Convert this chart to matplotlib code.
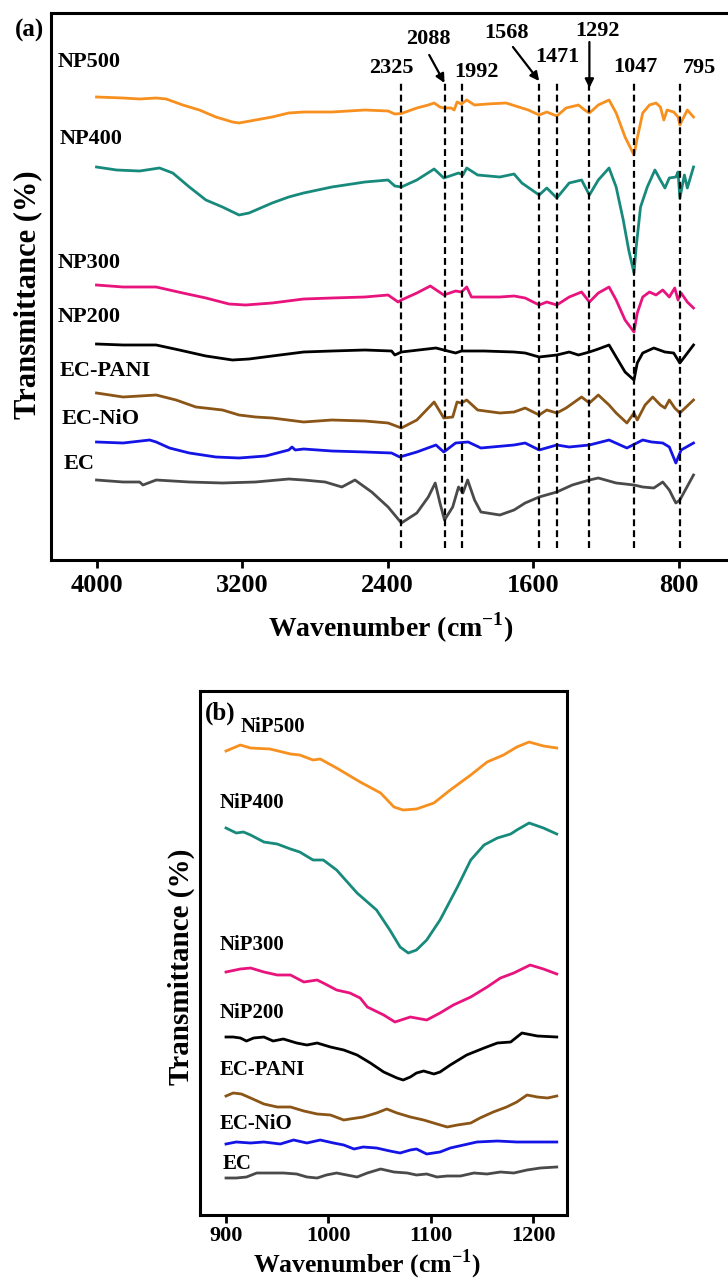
import matplotlib
matplotlib.use("Agg")
import matplotlib.pyplot as plt

plt.rcParams["font.family"] = ["Liberation Serif", "DejaVu Serif"]
plt.rcParams["font.weight"] = "bold"
plt.rcParams["mathtext.fontset"] = "custom"
plt.rcParams["mathtext.rm"] = "Liberation Serif:bold"
plt.rcParams["mathtext.bf"] = "Liberation Serif:bold"

# ---- panel (a): full-range FTIR spectra (offset, a.u.) ----
np500_wn = [4000, 3854, 3763, 3672, 3617, 3526, 3435, 3344, 3253, 3217,
            3126, 3035, 2944, 2862, 2707, 2525, 2398, 2361, 2325, 2240,
            2177, 2145, 2113, 2092, 2051, 2035, 2019, 1995, 1966, 1923,
            1853, 1750, 1680, 1628, 1568, 1526, 1471, 1420, 1352, 1318,
            1292, 1243, 1184, 1145, 1096, 1047, 1029, 999, 962, 926,
            902, 883, 865, 829, 805, 795, 754, 720]
np500_t = [463, 462, 461, 462, 461, 455, 450, 443, 438, 437,
           440, 443, 447, 448, 448, 450, 449, 446, 446.5, 452,
           455, 457, 453, 452, 452, 450, 458, 456, 460, 455,
           456, 457, 453, 450, 445, 448, 444, 452, 455, 450,
           447, 455, 460, 447, 423, 405, 422, 447, 455, 457,
           453, 440, 450, 448, 443, 435, 450, 443]

np400_wn = [4000, 3890, 3763, 3654, 3581, 3490, 3399, 3308, 3217, 3162,
            3035, 2944, 2862, 2707, 2525, 2398, 2361, 2325, 2240, 2145,
            2092, 2043, 2011, 1987, 1966, 1906, 1784, 1706, 1663, 1568,
            1526, 1471, 1403, 1335, 1292, 1243, 1184, 1145, 1106, 1076,
            1047, 1035, 1011, 974, 932, 902, 877, 853, 817, 805,
            795, 770, 754, 720]
np400_t = [393, 390, 389, 392, 387, 373, 360, 353, 345, 347,
           357, 363, 367, 373, 378, 380, 374, 373, 380, 391,
           382, 385, 387, 385, 392, 385, 383, 386, 377, 365,
           372, 362, 377, 380, 365, 380, 392, 373, 340, 310,
           287, 313, 353, 373, 390, 380, 372, 382, 383, 388,
           362, 385, 372, 393]

np300_wn = [4000, 3854, 3672, 3526, 3399, 3272, 3181, 3035, 2862, 2707,
            2525, 2398, 2343, 2325, 2240, 2166, 2092, 2027, 1995, 1966,
            1940, 1784, 1706, 1645, 1568, 1526, 1471, 1403, 1335, 1292,
            1243, 1184, 1145, 1096, 1047, 1029, 999, 962, 926, 889,
            853, 823, 805, 788, 754, 720]
np300_t = [275, 273, 273, 267, 262, 256, 255, 257, 261, 262,
           263, 265, 258, 260, 267, 274, 265, 269, 268, 273,
           263, 263, 264, 262, 255, 258, 255, 263, 268, 258,
           267, 273, 260, 240, 228, 247, 263, 268, 265, 270,
           263, 272, 260, 267, 258, 252]

np200_wn = [4000, 3854, 3672, 3545, 3399, 3253, 3162, 3035, 2862, 2707,
            2525, 2379, 2361, 2325, 2135, 2027, 1995, 1871, 1706, 1645,
            1568, 1471, 1403, 1352, 1292, 1243, 1184, 1145, 1096, 1047,
            1029, 999, 938, 877, 829, 795, 720]
np200_t = [216, 215, 215, 210, 204, 200, 201, 204, 208, 209,
           210, 209, 205, 208, 212, 207, 209, 209, 208, 207,
           203, 205, 208, 205, 208, 211, 215, 203, 188, 180,
           197, 207, 212, 208, 207, 197, 215]

ecpani_wn = [4000, 3854, 3672, 3563, 3454, 3308, 3217, 3126, 3035, 2862,
             2707, 2525, 2398, 2325, 2240, 2145, 2092, 2043, 2019, 1995,
             1966, 1906, 1784, 1706, 1645, 1568, 1526, 1471, 1420, 1335,
             1292, 1243, 1184, 1145, 1086, 1047, 1029, 986, 944, 902,
             877, 853, 823, 795, 720]
ecpani_t = [167, 163, 165, 160, 153, 150, 145, 143, 142, 138,
            140, 139, 137, 132, 140, 158, 142, 143, 158, 157,
            160, 150, 147, 148, 152, 145, 150, 147, 152, 163,
            157, 165, 155, 147, 137, 147, 140, 155, 163, 155,
            152, 160, 152, 147, 160]

ecnio_wn = [4000, 3854, 3708, 3672, 3599, 3490, 3344, 3217, 3071, 2944,
            2926, 2908, 2862, 2707, 2525, 2379, 2334, 2240, 2135, 2092,
            2027, 1958, 1888, 1706, 1645, 1568, 1471, 1403, 1292, 1184,
            1086, 999, 950, 889, 853, 817, 788, 720]
ecnio_t = [118, 117, 120, 118, 112, 107, 103, 102, 104, 110,
           113, 110, 111, 109, 108, 107, 103, 108, 115, 108,
           117, 118, 112, 115, 117, 110, 115, 113, 115, 120,
           112, 120, 118, 117, 113, 97, 110, 117]

ec_wn = [4000, 3854, 3763, 3745, 3672, 3490, 3308, 3126, 2944, 2862,
         2744, 2652, 2580, 2488, 2398, 2325, 2240, 2177, 2139, 2113,
         2088, 2043, 2011, 1987, 1961, 1923, 1888, 1784, 1706, 1645,
         1568, 1471, 1386, 1292, 1243, 1145, 1047, 999, 938, 889,
         853, 817, 795, 720]
ec_t = [80, 78, 78, 75, 80, 78, 77, 78, 81, 80,
        78, 73, 80, 68, 53, 37, 47, 63, 77, 57,
        40, 53, 73, 67, 80, 60, 48, 45, 50, 57,
        63, 68, 75, 80, 82, 77, 75, 73, 72, 78,
        70, 57, 60, 85]

peak_wn = [2325, 2088, 1992, 1568, 1471, 1292, 1047, 795]

# ---- panel (b): 900-1225 cm-1 region ----
nip500_wn = [900, 914, 924, 943, 963, 972, 985, 992, 1008, 1031, 1051, 1064,
             1073, 1086, 1103, 1119, 1139, 1155, 1171, 1184, 1196, 1210, 1223]
nip500_t = [464, 470, 467, 466, 461, 460, 455, 456, 447, 433, 422, 408,
            405, 406, 412, 425, 440, 453, 460, 468, 473, 469, 467]

nip400_wn = [900, 910, 917, 924, 937, 950, 963, 972, 985, 995, 1008, 1028,
             1047, 1060, 1070, 1078, 1086, 1096, 1109, 1126, 1139, 1152,
             1165, 1178, 1184, 1196, 1210, 1223]
nip400_t = [387, 382, 383, 380, 373, 371, 366, 363, 355, 355, 345, 322,
            305, 285, 268, 262, 265, 275, 295, 328, 355, 370,
            377, 381, 385, 392, 387, 381]

nip300_wn = [900, 914, 924, 937, 950, 963, 976, 989, 995, 1008, 1021, 1031,
             1038, 1054, 1065, 1080, 1096, 1109, 1122, 1139, 1155, 1168,
             1181, 1197, 1210, 1223]
nip300_t = [243, 246, 247, 243, 240, 240, 233, 235, 232, 225, 222, 217,
            208, 200, 193, 198, 195, 202, 210, 218, 228, 237,
            242, 250, 246, 241]

nip200_wn = [900, 907, 914, 920, 927, 937, 946, 956, 969, 979, 989, 1002,
             1015, 1028, 1041, 1054, 1067, 1073, 1080, 1086, 1093, 1103,
             1109, 1119, 1135, 1152, 1165, 1178, 1189, 1204, 1223]
nip200_t = [178, 178, 177, 174, 177, 178, 174, 176, 172, 170, 172, 168,
            165, 160, 152, 143, 137, 135, 138, 142, 144, 141,
            143, 150, 160, 167, 172, 173, 182, 179, 178]

bpani_wn = [900, 907, 915, 924, 937, 950, 963, 976, 989, 1002, 1015, 1021,
            1034, 1047, 1057, 1067, 1080, 1093, 1106, 1116, 1126, 1139,
            1148, 1161, 1174, 1184, 1194, 1204, 1214, 1223]
bpani_t = [119, 122, 121, 117, 111, 108, 108, 104, 101, 100, 95, 96,
           98, 102, 106, 102, 98, 95, 91, 88, 90, 92,
           97, 103, 108, 113, 120, 118, 117, 119]

bnio_wn = [900, 910, 924, 937, 953, 966, 979, 992, 1005, 1015, 1025, 1034,
           1047, 1060, 1070, 1080, 1086, 1096, 1109, 1119, 1132, 1145,
           1165, 1184, 1204, 1223]
bnio_t = [71, 73, 72, 73, 71, 75, 72, 75, 72, 70, 66, 68,
          67, 64, 62, 65, 66, 61, 63, 67, 70, 73,
          74, 73, 73, 73]

bec_wn = [900, 910, 920, 930, 943, 956, 969, 979, 989, 998, 1008, 1018,
          1028, 1038, 1051, 1064, 1077, 1086, 1096, 1106, 1116, 1129,
          1142, 1155, 1168, 1181, 1194, 1207, 1223]
bec_t = [37, 37, 38, 42, 42, 42, 41, 38, 37, 40, 42, 40,
         38, 42, 46, 43, 42, 40, 41, 38, 39, 39,
         42, 41, 43, 42, 45, 47, 48]

colors = {
    "orange": "#F7901E",
    "teal": "#178A7C",
    "pink": "#E8137D",
    "black": "#000000",
    "brown": "#8A5516",
    "blue": "#1414E6",
    "gray": "#4A4A4A",
}

W, H = 728, 1281
fig = plt.figure(figsize=(W / 100, H / 100), dpi=100)


def style_axes(ax, ticks, labelsize, pad):
    for sp in ax.spines.values():
        sp.set_linewidth(2.2)
    ax.set_xticks(ticks)
    ax.tick_params(axis="x", direction="out", length=6, width=2,
                   labelsize=labelsize, pad=pad)
    ax.tick_params(axis="y", left=False, labelleft=False)
    ax.minorticks_off()


# panel (a)
ax_a = fig.add_axes([51 / W, 1 - 560 / H, (731 - 51) / W, (560 - 13) / H])
ax_a.set_xlim(4250, 514)
ax_a.set_ylim(0, 547)
style_axes(ax_a, [4000, 3200, 2400, 1600, 800], 19, 4)

series_a = [
    (np500_wn, np500_t, "orange", "NP500", 4212, 498),
    (np400_wn, np400_t, "teal", "NP400", 4201, 421),
    (np300_wn, np300_t, "pink", "NP300", 4212, 297),
    (np200_wn, np200_t, "black", "NP200", 4212, 243),
    (ecpani_wn, ecpani_t, "brown", "EC-PANI", 4201, 189),
    (ecnio_wn, ecnio_t, "blue", "EC-NiO", 4192, 141),
    (ec_wn, ec_t, "gray", "EC", 4179, 96),
]
for wn, t, c, name, lx, ly in series_a:
    ax_a.plot(wn, t, color=colors[c], lw=2)
    ax_a.text(lx, ly, name, ha="left", va="center", fontsize=16)

ax_a.vlines(peak_wn, 12, 478, colors="k", lw=1.6, linestyles=(0, (3.1, 1.8)))

# peak labels, some with arrows
peak_text = [("2325", 2382, 492), ("2088", 2174, 521), ("1992", 1910, 488),
             ("1568", 1745, 527), ("1471", 1470, 503), ("1292", 1245, 529),
             ("1047", 1042, 493), ("795", 690, 492)]
for s, x, y in peak_text:
    ax_a.text(x, y, s, ha="center", va="center", fontsize=16)

arrow_kw = dict(arrowstyle="-|>", color="k", lw=1.6, mutation_scale=13,
                shrinkA=0, shrinkB=0)
ax_a.annotate("", xy=(2088, 477), xytext=(2172, 505), arrowprops=arrow_kw)
ax_a.annotate("", xy=(1568, 479), xytext=(1712, 513), arrowprops=arrow_kw)
ax_a.annotate("", xy=(1292, 472), xytext=(1292, 518), arrowprops=arrow_kw)

fig.text(30 / W, 1 - 30 / H, "(a)", ha="center", va="center", fontsize=18)
fig.text(28 / W, 1 - 295 / H, "Transmittance (%)", rotation=90,
         ha="center", va="center", fontsize=22)
fig.text(391 / W, 1 - 628 / H, r"Wavenumber (cm$^{\mathbf{-1}}$)",
         ha="center", va="center", fontsize=20)

# panel (b)
ax_b = fig.add_axes([200 / W, 1 - 1215 / H, (567 - 200) / W, (1215 - 691) / H])
ax_b.set_xlim(874.6, 1233)
ax_b.set_ylim(0, 524)
style_axes(ax_b, [900, 1000, 1100, 1200], 16, 2)

series_b = [
    (nip500_wn, nip500_t, "orange", "NiP500", 914, 488),
    (nip400_wn, nip400_t, "teal", "NiP400", 894, 412),
    (nip300_wn, nip300_t, "pink", "NiP300", 894, 270),
    (nip200_wn, nip200_t, "black", "NiP200", 894, 202),
    (bpani_wn, bpani_t, "brown", "EC-PANI", 894, 145),
    (bnio_wn, bnio_t, "blue", "EC-NiO", 894, 91),
    (bec_wn, bec_t, "gray", "EC", 897, 51),
]
for wn, t, c, name, lx, ly in series_b:
    ax_b.plot(wn, t, color=colors[c], lw=2)
    ax_b.text(lx, ly, name, ha="left", va="center", fontsize=15)

ax_b.text(894, 502, "(b)", ha="center", va="center", fontsize=18)
fig.text(181 / W, 1 - 967 / H, "Transmittance (%)", rotation=90,
         ha="center", va="center", fontsize=21)
fig.text(367 / W, 1 - 1272 / H, r"Wavenumber (cm$^{\mathbf{-1}}$)",
         ha="center", va="baseline", fontsize=18.5)

fig.savefig("out.png", dpi=100)
